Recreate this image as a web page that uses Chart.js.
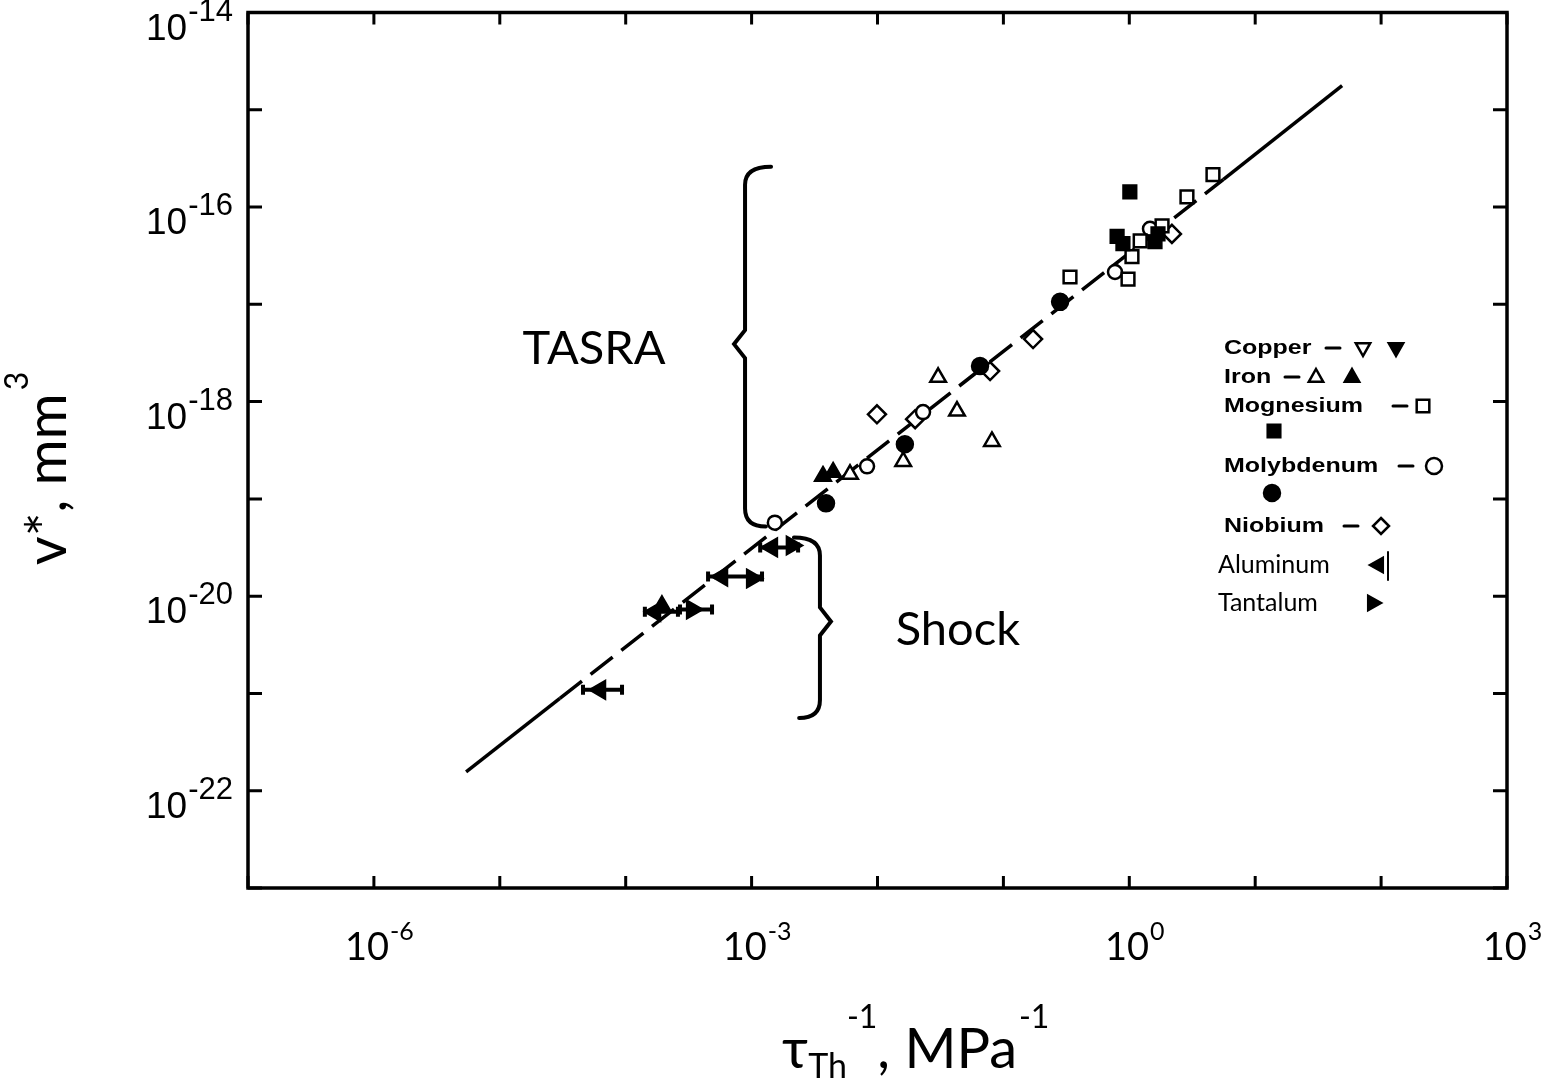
<!DOCTYPE html>
<html>
<head>
<meta charset="utf-8">
<script src="https://cdn.jsdelivr.net/npm/chart.js@4.4.0/dist/chart.umd.min.js"></script>
<style>
  html, body { margin: 0; padding: 0; background: #fff; }
  #wrap { width: 1541px; height: 1081px; position: relative; }
</style>
</head>
<body>
<div id="wrap"><canvas id="activationChart"></canvas></div>
<script>
// axis ticks (one per decade) and the ones that carry a label
const xTicks = [1e-7, 1e-6, 1e-5, 1e-4, 1e-3, 1e-2, 1e-1, 1e0, 1e1, 1e2, 1e3];
const xLabelled = [-6, -3, 0, 3];
const yTicks = [1e-23, 1e-22, 1e-21, 1e-20, 1e-19, 1e-18, 1e-17, 1e-16, 1e-15, 1e-14];
const yLabelled = [-14, -16, -18, -20, -22];

// fitted line (ends + where the dashed middle part starts/stops)
const fitX = [5.4e-6, 3.0e-5, 5.6, 49];
const fitY = [1.56e-22, 8.9e-22, 1.93e-16, 1.77e-15];

// Magnesium
const mgOpenX = [4.62, 2.87, 1.82, 1.22, 1.05, 0.338, 0.977];
const mgOpenY = [2.15e-16, 1.27e-16, 6.4e-17, 4.5e-17, 3.1e-17, 1.91e-17, 1.82e-17];
const mgFillX = [1.01, 0.80, 0.89, 1.60, 1.69];
const mgFillY = [1.43e-16, 5.0e-17, 4.2e-17, 4.4e-17, 5.3e-17];

// Molybdenum
const moOpenX = [1.53e-3, 8.26e-3, 0.0230, 1.46, 0.77];
const moOpenY = [5.7e-20, 2.16e-19, 7.8e-19, 5.97e-17, 2.15e-17];
const moFillX = [0.282, 0.0652, 0.0165, 3.9e-3];
const moFillY = [1.06e-17, 2.32e-18, 3.64e-19, 9.0e-20];

// Niobium
const nbX = [0.172, 0.0784, 9.9e-3, 0.0199, 2.18];
const nbY = [4.4e-18, 2.06e-18, 7.4e-19, 6.6e-19, 5.3e-17];

// Iron
const feOpenX = [0.0303, 0.0428, 0.0811, 0.0160, 6.05e-3];
const feOpenY = [1.78e-18, 8.0e-19, 3.9e-19, 2.43e-19, 1.79e-19];
const feFillX = [3.69e-3, 4.44e-3, 1.94e-4];
const feFillY = [1.71e-19, 1.88e-19, 8.0e-21];

// Copper (only in the key)
const cuOpenX = [];
const cuOpenY = [];
const cuFillX = [];
const cuFillY = [];

// Aluminum with horizontal range
const alX = [6.25e-5, 1.71e-4, 5.82e-4, 1.45e-3];
const alY = [1.09e-21, 6.9e-21, 1.59e-20, 3.17e-20];
const alLo = [4.58e-5, 1.42e-4, 4.51e-4, 1.17e-3];
const alHi = [9.35e-5, 2.60e-4, 1.21e-3, 2.34e-3];

// Tantalum
const taX = [3.37e-4, 1.01e-3, 2.09e-3];
const taY = [7.3e-21, 1.52e-20, 3.32e-20];
const taLo = [2.70e-4, null, null];
const taHi = [4.85e-4, null, null];

const FONT = 'Lato, "Open Sans", "DejaVu Sans", sans-serif';
const ARIAL = '"Liberation Sans", Arial, sans-serif';

function pts(xs, ys) {
  return xs.map((x, i) => ({ x: x, y: ys[i] }));
}

function markers(label, xs, ys, style, filled, radius, rotation) {
  return {
    type: 'scatter',
    label: label,
    data: pts(xs, ys),
    pointStyle: style,
    pointRadius: radius,
    pointRotation: rotation || 0,
    pointBackgroundColor: filled ? '#000' : '#fff',
    pointBorderColor: '#000',
    pointBorderWidth: 2.5,
    order: 0,
  };
}

function drawMarker(c, style, x, y, r, filled, rot) {
  c.save();
  c.translate(x, y);
  c.rotate(((rot || 0) * Math.PI) / 180);
  c.beginPath();
  if (style === 'circle') {
    c.arc(0, 0, r, 0, Math.PI * 2);
  } else if (style === 'rect') {
    c.rect(-r * 0.7, -r * 0.7, r * 1.4, r * 1.4);
  } else if (style === 'rectRot') {
    c.moveTo(0, -r); c.lineTo(r, 0); c.lineTo(0, r); c.lineTo(-r, 0); c.closePath();
  } else {
    c.moveTo(0, -r); c.lineTo(r * 0.9, r * 0.6); c.lineTo(-r * 0.9, r * 0.6); c.closePath();
  }
  c.fillStyle = filled ? '#000' : '#fff';
  c.fill();
  c.lineWidth = 2.5;
  c.strokeStyle = '#000';
  c.stroke();
  c.restore();
}

// "10" with a raised exponent; align 'center' or 'right'
function drawPow(c, exp, x, y, baseFont, expFont, rise, align) {
  c.font = baseFont;
  const wb = c.measureText('10').width;
  c.font = expFont;
  const we = c.measureText(exp).width;
  let left = align === 'right' ? x - wb - we : x - (wb + we) / 2;
  c.textAlign = 'left';
  c.textBaseline = 'alphabetic';
  c.font = baseFont;
  c.fillText('10', left, y);
  c.font = expFont;
  c.fillText(exp, left + wb + 1, y - rise);
}

const framePlugin = {
  id: 'frame',
  afterDraw(chart) {
    const c = chart.ctx;
    const a = chart.chartArea;
    const xs = chart.scales.x;
    const ys = chart.scales.y;
    c.save();
    c.strokeStyle = '#000';
    c.fillStyle = '#000';
    c.lineWidth = 3.5;
    c.strokeRect(a.left, a.top, a.right - a.left, a.bottom - a.top);

    c.lineWidth = 3;
    xTicks.forEach((t) => {
      const px = xs.getPixelForValue(t);
      c.beginPath();
      c.moveTo(px, a.bottom); c.lineTo(px, a.bottom - 12);
      c.moveTo(px, a.top); c.lineTo(px, a.top + 12);
      c.stroke();
    });
    yTicks.forEach((t) => {
      const py = ys.getPixelForValue(t);
      c.beginPath();
      c.moveTo(a.left, py); c.lineTo(a.left + 14, py);
      c.moveTo(a.right, py); c.lineTo(a.right - 14, py);
      c.stroke();
    });

    xLabelled.forEach((e) => {
      const px = xs.getPixelForValue(Math.pow(10, e));
      drawPow(c, String(e), px + 5, a.bottom + 72, '38px ' + FONT, '25px ' + FONT, 20, 'center');
    });
    yLabelled.forEach((e) => {
      const py = ys.getPixelForValue(Math.pow(10, e));
      drawPow(c, String(e), a.left - 16, py + 27, '37px ' + ARIAL, '31px ' + ARIAL, 19, 'right');
    });
    c.restore();
  },
};

const errorPlugin = {
  id: 'errorBars',
  afterDatasetsDraw(chart) {
    const c = chart.ctx;
    const xs = chart.scales.x;
    const ys = chart.scales.y;
    c.save();
    c.strokeStyle = '#000';
    c.lineWidth = 4;
    const bars = (xv, yv, lo, hi) => {
      xv.forEach((x, i) => {
        if (lo[i] == null) return;
        const py = ys.getPixelForValue(yv[i]);
        const x0 = xs.getPixelForValue(lo[i]);
        const x1 = xs.getPixelForValue(hi[i]);
        c.beginPath();
        c.moveTo(x0, py); c.lineTo(x1, py);
        c.moveTo(x0, py - 5); c.lineTo(x0, py + 5);
        c.moveTo(x1, py - 5); c.lineTo(x1, py + 5);
        c.stroke();
      });
    };
    bars(alX, alY, alLo, alHi);
    bars(taX, taY, taLo, taHi);
    c.restore();
  },
};

// braces, region names, axis titles and the key
const notes = {
  tasra: { x: 8.87e-4, top: 2.6e-16, mid: 3.9e-18, bot: 5.2e-20, dir: -1 },
  shock: { x: 3.49e-3, top: 4.0e-20, mid: 5.5e-21, bot: 5.6e-22, dir: 1 },
  tasraText: { x: 5.6e-5, y: 3.47e-18 },
  shockText: { x: 0.0435, y: 4.5e-21 },
};

const keyRows = [
  { text: 'Copper', bold: true, y: 348, dash: 1333, sym: [['triangle', 1363, false, 180], ['triangle', 1396, true, 180]] },
  { text: 'Iron', bold: true, y: 377, dash: 1292, sym: [['triangle', 1316, false, 0], ['triangle', 1352, true, 0]] },
  { text: 'Mognesium', bold: true, y: 406, dash: 1400, sym: [['rect', 1423, false, 0]] },
  { text: '', y: 431, sym: [['rect', 1274, true, 0]] },
  { text: 'Molybdenum', bold: true, y: 466, dash: 1406, sym: [['circle', 1434, false, 0]] },
  { text: '', y: 493, sym: [['circle', 1272, true, 0]] },
  { text: 'Niobium', bold: true, y: 526, dash: 1351, sym: [['rectRot', 1381, false, 0]] },
  { text: 'Aluminum', bold: false, y: 565, sym: [['triangle', 1378, true, 270]] },
  { text: 'Tantalum', bold: false, y: 603, sym: [['triangle', 1373, true, 90]] },
];

function drawBrace(c, x, top, mid, bot, dir) {
  const h = 26;
  c.beginPath();
  c.moveTo(x - dir * h, top);
  c.quadraticCurveTo(x, top, x, top + 18);
  c.lineTo(x, mid - 14);
  c.lineTo(x + dir * 11, mid);
  c.lineTo(x, mid + 14);
  c.lineTo(x, bot - 18);
  c.quadraticCurveTo(x, bot, x - dir * h * 0.8, bot);
  c.stroke();
}

const notesPlugin = {
  id: 'notes',
  afterDraw(chart) {
    const c = chart.ctx;
    const xs = chart.scales.x;
    const ys = chart.scales.y;
    c.save();
    c.strokeStyle = '#000';
    c.fillStyle = '#000';
    c.lineWidth = 4;
    c.lineCap = 'round';
    [notes.tasra, notes.shock].forEach((b) => {
      drawBrace(c, xs.getPixelForValue(b.x), ys.getPixelForValue(b.top),
        ys.getPixelForValue(b.mid), ys.getPixelForValue(b.bot), b.dir);
    });

    c.textAlign = 'center';
    c.textBaseline = 'middle';
    c.font = '47px ' + FONT;
    c.fillText('TASRA', xs.getPixelForValue(notes.tasraText.x), ys.getPixelForValue(notes.tasraText.y));
    c.fillText('Shock', xs.getPixelForValue(notes.shockText.x), ys.getPixelForValue(notes.shockText.y));

    // key
    c.textAlign = 'left';
    keyRows.forEach((r) => {
      if (r.text && r.bold) {
        c.save();
        c.translate(1224, r.y);
        c.scale(1.25, 1);
        c.font = 'bold 20px ' + ARIAL;
        c.fillText(r.text, 0, 0);
        c.restore();
      } else if (r.text) {
        c.font = '25px ' + FONT;
        c.fillText(r.text, 1218, r.y);
      }
      if (r.dash) {
        c.lineWidth = 3;
        c.beginPath();
        c.moveTo(r.dash - 7, r.y); c.lineTo(r.dash + 7, r.y);
        c.stroke();
      }
      r.sym.forEach((s) => {
        const rad = s[0] === 'rect' ? 9 : 8;
        drawMarker(c, s[0], s[1], r.y, rad, s[2], s[3]);
      });
    });
    c.lineWidth = 2;
    c.beginPath();
    c.moveTo(1388, 552); c.lineTo(1388, 580);
    c.stroke();

    // y title
    c.save();
    c.translate(46, 470);
    c.rotate(-Math.PI / 2);
    c.textBaseline = 'alphabetic';
    c.font = '56px ' + FONT;
    const t1 = 'v*, mm';
    const w1 = c.measureText(t1).width;
    c.font = '32px ' + FONT;
    const w2 = c.measureText('3').width;
    let left = -(w1 + w2) / 2;
    c.font = '56px ' + FONT;
    c.fillText(t1, left, 20);
    c.font = '32px ' + FONT;
    c.fillText('3', left + w1 + 3, -18);
    c.restore();

    // x title
    c.textBaseline = 'alphabetic';
    let x = 782;
    const base = 1068;
    const part = (txt, size, dy) => {
      c.font = size + 'px ' + FONT;
      c.fillText(txt, x, base + dy);
      x += c.measureText(txt).width;
    };
    part('\u03c4', 56, 0);
    part('Th', 34, 10);
    part('-1', 32, -40);
    part(', MPa', 56, 0);
    x += 2;
    part('-1', 32, -40);
    c.restore();
  },
};

function activationChart() {
  const ctx = document.getElementById('activationChart');

  new Chart(ctx, {
    type: 'scatter',
    data: {
      datasets: [
        markers('Aluminum', alX, alY, 'triangle', true, 10, 270),
        markers('Tantalum', taX, taY, 'triangle', true, 10, 90),
        markers('Copper', cuFillX, cuFillY, 'triangle', true, 8, 180),
        markers('Copper open', cuOpenX, cuOpenY, 'triangle', false, 8, 180),
        markers('Iron', feFillX, feFillY, 'triangle', true, 9, 0),
        markers('Iron open', feOpenX, feOpenY, 'triangle', false, 9, 0),
        markers('Magnesium', mgFillX, mgFillY, 'rect', true, 9, 0),
        markers('Magnesium open', mgOpenX, mgOpenY, 'rect', false, 9, 0),
        markers('Molybdenum', moFillX, moFillY, 'circle', true, 8, 0),
        markers('Molybdenum open', moOpenX, moOpenY, 'circle', false, 7, 0),
        markers('Niobium', nbX, nbY, 'rectRot', false, 9, 0),
        {
          type: 'line',
          label: 'fit',
          data: pts(fitX, fitY),
          borderColor: '#000',
          borderWidth: 3.5,
          pointRadius: 0,
          fill: false,
          tension: 0,
          order: 1,
          segment: {
            borderDash: (s) => (s.p0DataIndex === 1 ? [28, 11] : undefined),
          },
        },
      ],
    },
    options: {
      responsive: true,
      maintainAspectRatio: false,
      animation: false,
      layout: {
        padding: { left: 248, right: 34, top: 12, bottom: 193 },
      },
      scales: {
        x: { type: 'logarithmic', min: 1e-7, max: 1e3, display: false },
        y: { type: 'logarithmic', min: 1e-23, max: 1e-14, display: false },
      },
      plugins: {
        legend: { display: false },
        tooltip: { enabled: false },
      },
    },
    plugins: [framePlugin, errorPlugin, notesPlugin],
  });
}

activationChart();
</script>
</body>
</html>
